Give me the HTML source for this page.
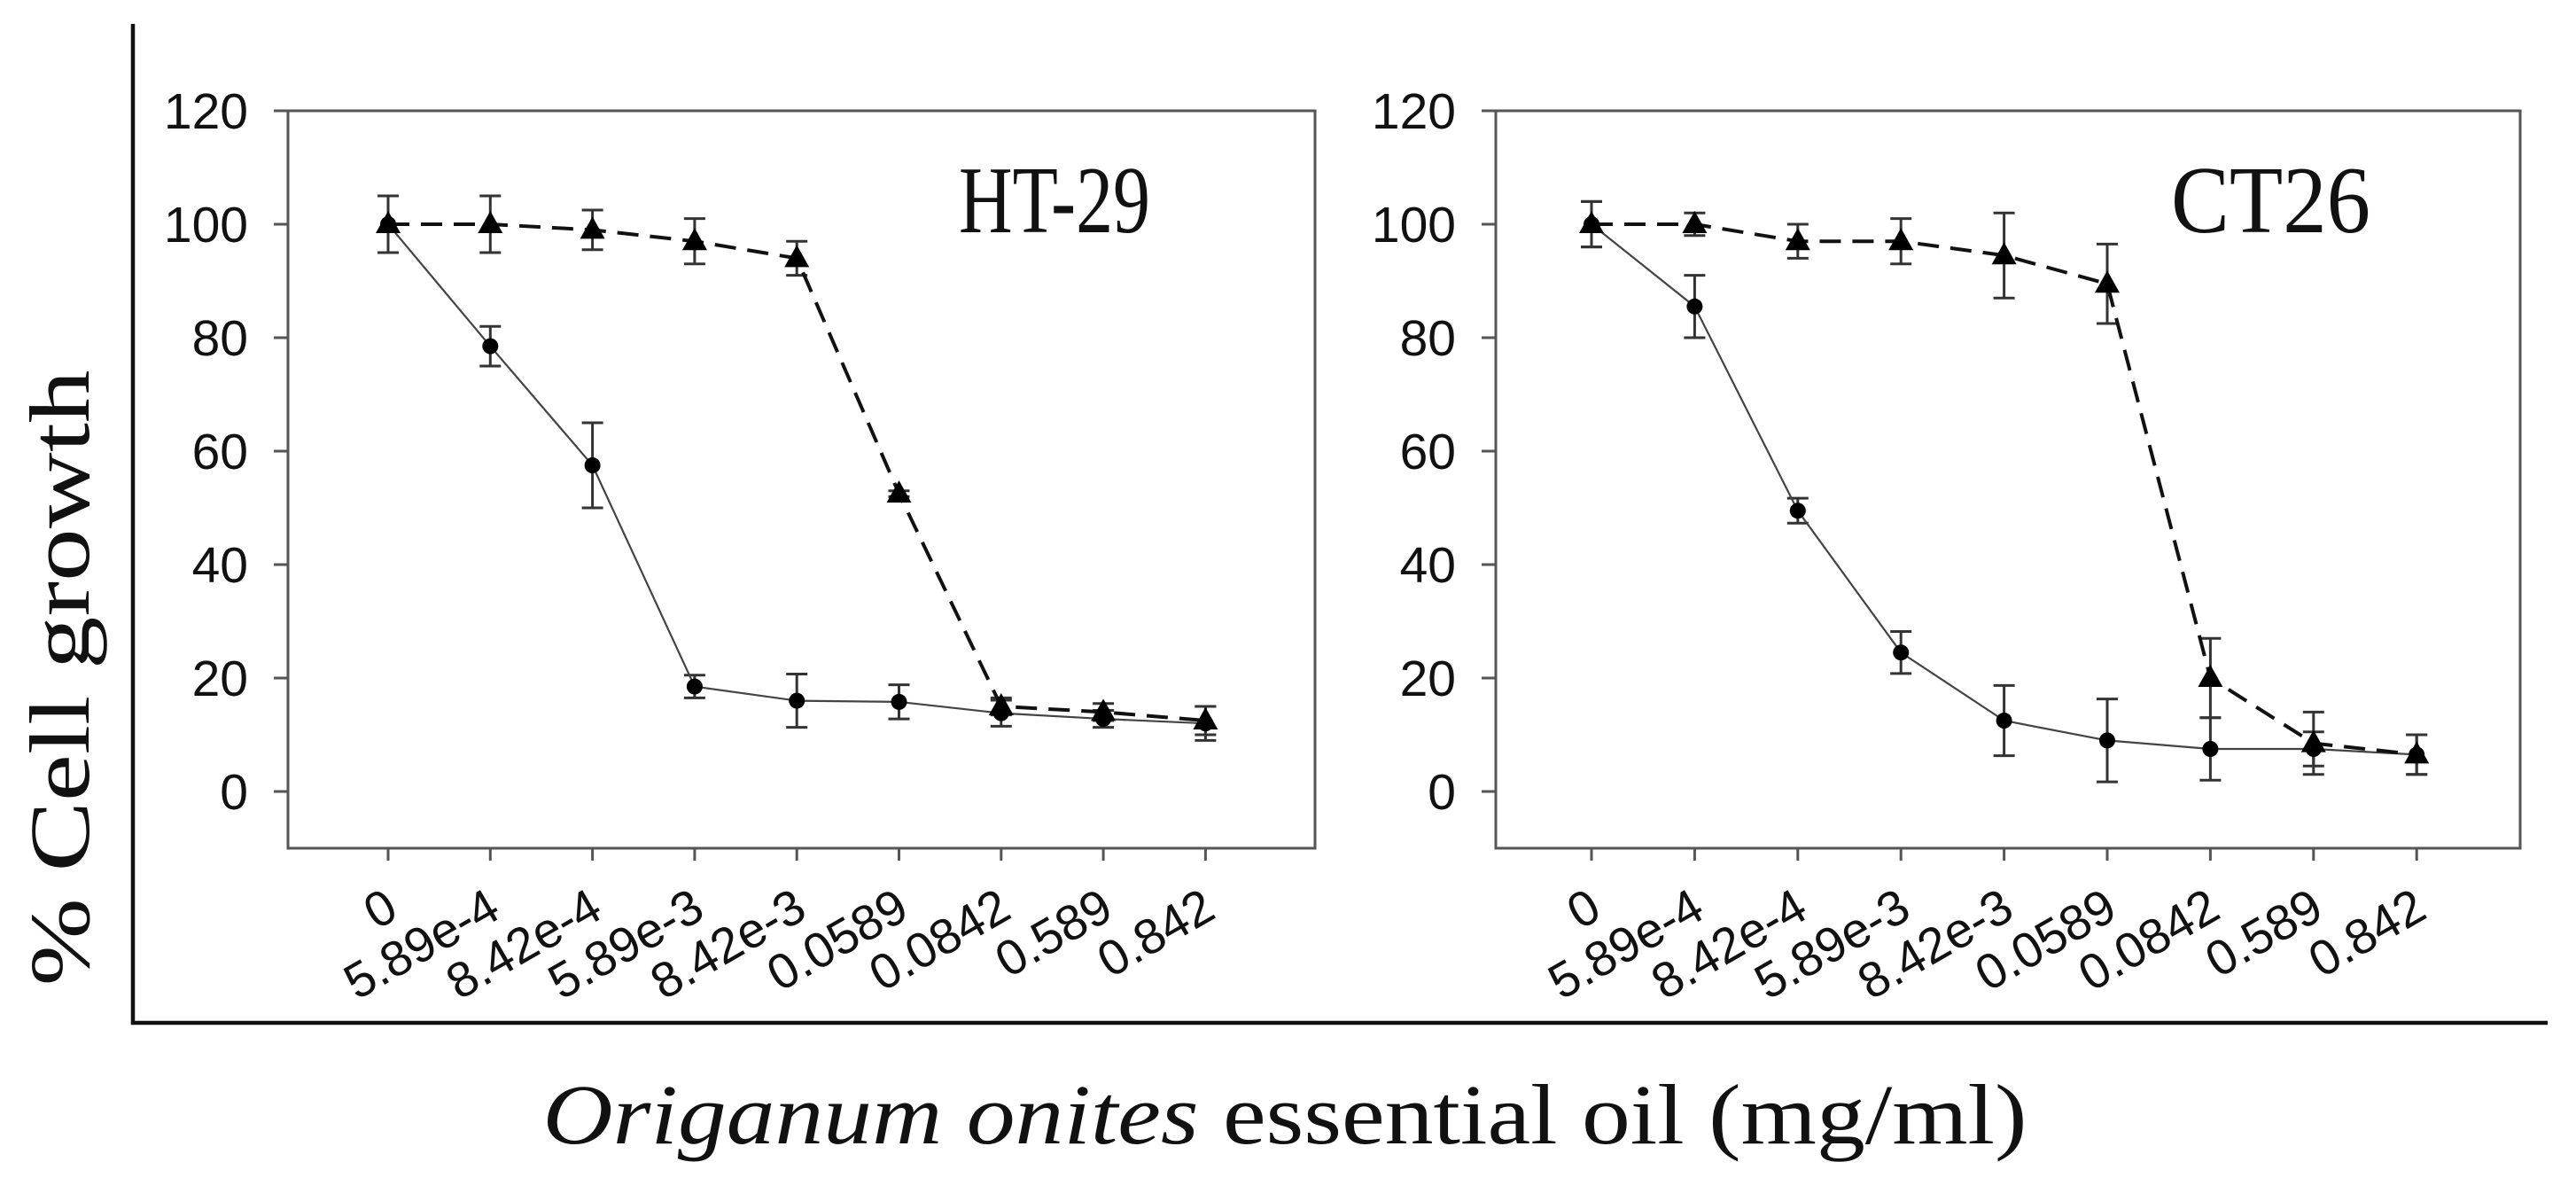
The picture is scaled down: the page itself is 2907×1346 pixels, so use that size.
<!DOCTYPE html>
<html><head><meta charset="utf-8"><style>
html,body{margin:0;padding:0;background:#fff;}
svg{display:block;}
</style></head><body>
<svg id="fig" width="2907" height="1346" viewBox="0 0 2907 1346" xmlns="http://www.w3.org/2000/svg">
<line x1="150" y1="27" x2="150" y2="1156" stroke="#111" stroke-width="4.5"/>
<line x1="148" y1="1154" x2="2875" y2="1154" stroke="#111" stroke-width="4.5"/>
<text x="0" y="0" transform="translate(100,765) rotate(-90)" text-anchor="middle" font-family="Liberation Serif, serif" font-size="96" textLength="695" lengthAdjust="spacingAndGlyphs" fill="#111">% Cell growth</text>
<text x="1450" y="1290" text-anchor="middle" font-family="Liberation Serif, serif" font-size="96" textLength="1675" lengthAdjust="spacingAndGlyphs" fill="#111"><tspan font-style="italic">Origanum onites</tspan> essential oil (mg/ml)</text>
</svg>
<script>
const categories = ["0","5.89e-4","8.42e-4","5.89e-3","8.42e-3","0.0589","0.0842","0.589","0.842"];
const yTicks = [0,20,40,60,80,100,120];
const ht29Circle = [100,78.5,57.5,18.5,16,15.8,13.8,12.8,12];
const ht29CircleErr = [5,3.5,7.5,2,4.7,3,2.3,1.5,3];
const ht29Tri = [100,100,99,97,94,52.5,15,14,12.5];
const ht29TriErr = [5,5,3.5,4,3,0.5,1.5,1.5,2.5];
const ct26Circle = [100,85.5,49.5,24.5,12.5,9,7.5,7.5,6.5];
const ct26CircleErr = [4,5.5,2.2,3.7,6.2,7.3,5.5,3,3.5];
const ct26Tri = [100,100,97,97,94.5,89.5,20,8.5,6.5];
const ct26TriErr = [4,2,3,4,7.5,7,7,5.5,3.5];

const NS = "http://www.w3.org/2000/svg";
const svgRoot = document.getElementById("fig");
function mk(tag, attrs, parent){
  const e = document.createElementNS(NS, tag);
  for (const k in attrs) e.setAttribute(k, attrs[k]);
  (parent||svgRoot).appendChild(e);
  return e;
}
const yMin=-10, yMax=120, plotTop=125, plotBottom=957;
function yScale(v){ return plotTop + (yMax - v)/(yMax - yMin)*(plotBottom-plotTop); }

function panel(cfg){
  const g = mk("g", {});
  
  
  function xScale(i){ return cfg.x0 + i*cfg.step; }
  const box = mk("rect", {x:cfg.left, y:plotTop, width:cfg.right-cfg.left, height:plotBottom-plotTop, fill:"none", stroke:"#555", "stroke-width":3}, g);
  
  
  yTicks.forEach(v=>{
    const y = yScale(v);
    const t = mk("line", {x1:cfg.left-16, y1:y, x2:cfg.left, y2:y, stroke:"#555", "stroke-width":3}, g);
    
    
    const l = mk("text", {x:cfg.left-45, y:y+20, "text-anchor":"end", "font-family":"Liberation Sans, sans-serif", "font-size":57, fill:"#111"}, g);
    l.textContent = v;
    
    
  });
  categories.forEach((c,i)=>{
    const x = xScale(i);
    const t = mk("line", {x1:x, y1:plotBottom, x2:x, y2:plotBottom+14, stroke:"#555", "stroke-width":3}, g);
    
    
    const l = mk("text", {x:0, y:0, transform:`translate(${x+14},${1034}) rotate(-30)`, "text-anchor":"end", "font-family":"Liberation Sans, sans-serif", "font-size":56, fill:"#111"}, g);
    l.textContent = c;
    
    
  });
  function errs(vals, er, nm){
    vals.forEach((v,i)=>{
      const x=xScale(i), y1=yScale(v+er[i]), y2=yScale(v-er[i]);
      const e = mk("path", {d:`M${x},${y1}V${y2}M${x-12},${y1}H${x+12}M${x-12},${y2}H${x+12}`, stroke:"#333", "stroke-width":3, fill:"none"}, g);
      
      
    });
  }
  errs(cfg.circ, cfg.circErr, 'error-bar-circle');
  errs(cfg.tri, cfg.triErr, 'error-bar-triangle');
  const cl = mk("polyline", {points:cfg.circ.map((v,i)=>xScale(i)+","+yScale(v)).join(" "), fill:"none", stroke:"#444", "stroke-width":2.2}, g);
  
  
  const tl = mk("polyline", {points:cfg.tri.map((v,i)=>xScale(i)+","+yScale(v)).join(" "), fill:"none", stroke:"#111", "stroke-width":4, "stroke-dasharray":"24 13"}, g);
  
  
  cfg.circ.forEach((v,i)=>{
    const c = mk("circle", {cx:xScale(i), cy:yScale(v), r:9, fill:"#000"}, g);
    
    
  });
  cfg.tri.forEach((v,i)=>{
    const x=xScale(i), y=yScale(v);
    const p = mk("path", {d:`M${x},${y-15}L${x+14},${y+10}L${x-14},${y+10}Z`, fill:"#000"}, g);
    
    
  });
  const ti = mk("text", {x:cfg.titleX, y:262, "font-family":"Liberation Serif, serif", "font-size":108, fill:"#111", textLength:cfg.titleW, lengthAdjust:"spacingAndGlyphs"}, g);
  ti.textContent = cfg.title;
  
  
}
panel({name:"panel-ht29", left:325, right:1484, x0:438, step:115.3, circ:ht29Circle, circErr:ht29CircleErr, tri:ht29Tri, triErr:ht29TriErr, title:"HT-29", titleX:1082, titleW:216});
panel({name:"panel-ct26", left:1688, right:2844, x0:1796, step:116.4, circ:ct26Circle, circErr:ct26CircleErr, tri:ct26Tri, triErr:ct26TriErr, title:"CT26", titleX:2450, titleW:225});
</script>
</body></html>
